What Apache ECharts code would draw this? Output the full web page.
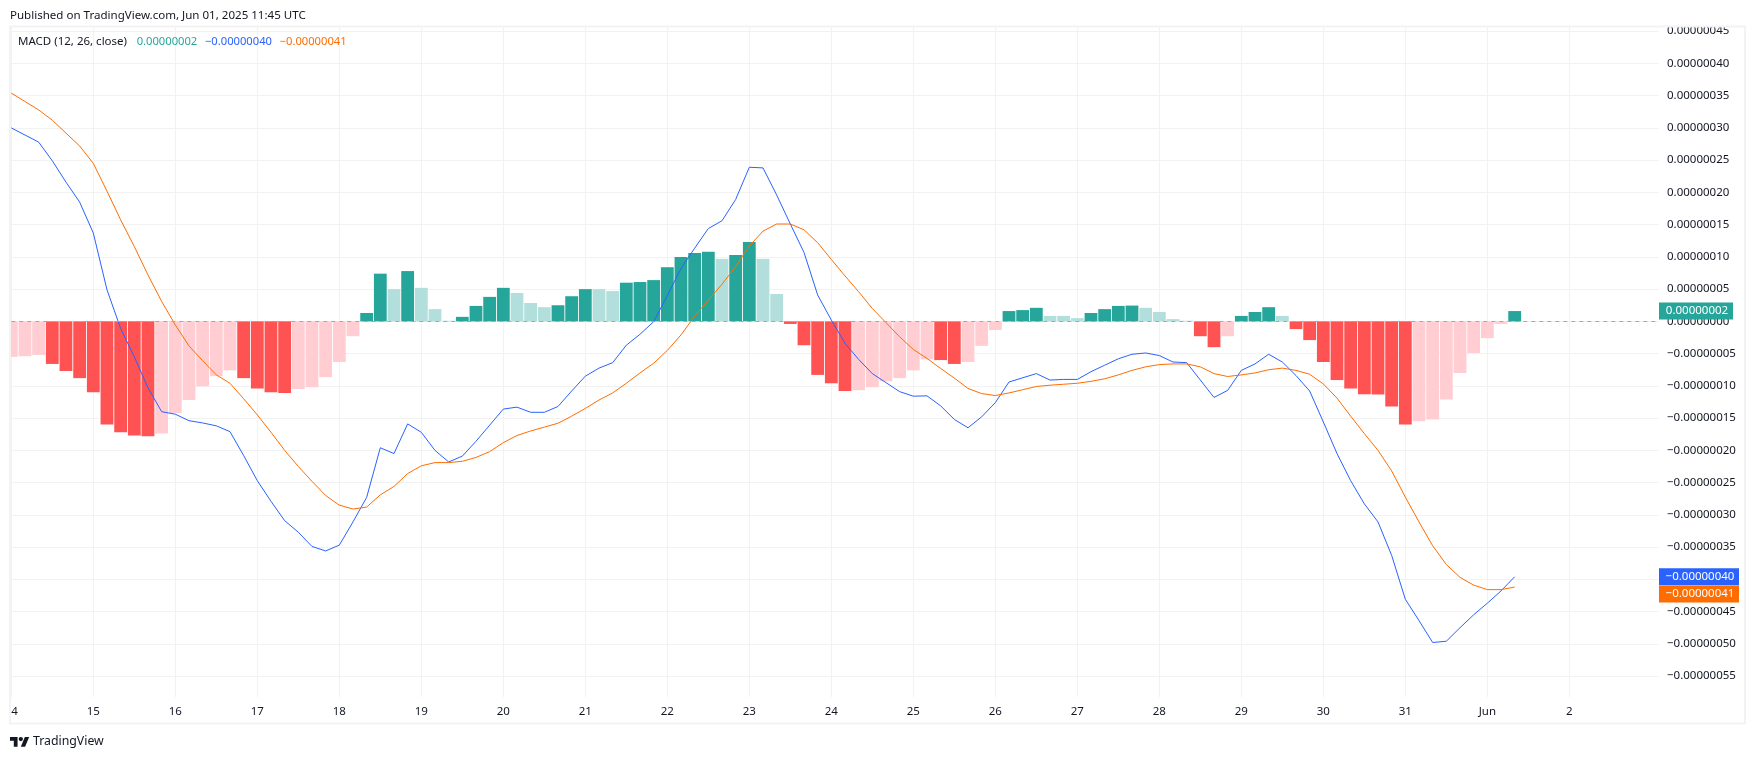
<!DOCTYPE html>
<html>
<head>
<meta charset="utf-8">
<title>MACD</title>
<style>
html, body { margin: 0; padding: 0; background: #fff; }
#chart { width: 1755px; height: 760px; }
</style>
<script src="https://cdn.jsdelivr.net/npm/echarts@6/dist/echarts.min.js"></script>
</head>
<body>
<div id="chart"></div>
<script>
// values are in units of 0.00000001, one entry per 4h bar starting on the 14th
var histogram = [
    -5.5, -5.4, -5.2, -6.6, -7.7, -8.8, -11.0, -16.0, -17.2, -17.7, -17.8, -17.4, -14.2, -12.2, -10.05, -8.5, -7.6, -8.8,
    -10.4, -11.0, -11.1, -10.5, -10.2, -8.65, -6.3, -2.3, 1.3, 7.4, 5.0, 7.8, 5.2, 1.9, 0.1, 0.7, 2.4, 3.8,
    5.2, 4.4, 2.85, 2.2, 2.5, 3.9, 5.0, 5.0, 4.7, 6.0, 6.1, 6.4, 8.4, 10.0, 10.6, 10.8, 9.7, 10.3,
    12.3, 9.7, 4.25, -0.4, -3.7, -8.3, -9.6, -10.8, -10.7, -10.2, -9.3, -8.8, -7.6, -5.9, -6.0, -6.6, -6.3, -3.8,
    -1.35, 1.6, 1.75, 2.1, 0.85, 0.85, 0.5, 1.3, 1.9, 2.4, 2.45, 2.1, 1.45, 0.35, 0.1, -2.3, -4.0, -2.3,
    0.85, 1.45, 2.2, 0.85, -1.2, -2.9, -6.3, -9.1, -10.4, -11.3, -11.35, -13.2, -16.0, -15.5, -15.2, -12.1, -8.0, -4.9,
    -2.6, -0.4, 1.6
];
var macdLine = [
    30.0, 28.9, 27.8, 24.9, 21.6, 18.5, 13.7, 4.9, -1.1, -5.5, -10.3, -14.0, -14.4, -15.4, -15.75, -16.2, -17.1, -20.8,
    -24.7, -27.9, -30.9, -32.7, -34.9, -35.6, -34.7, -31.1, -27.3, -19.6, -20.5, -15.9, -17.2, -20.0, -21.8, -20.9, -18.6, -16.1,
    -13.6, -13.3, -14.1, -14.1, -13.2, -10.8, -8.5, -7.25, -6.4, -3.7, -2.0, -0.05, 4.0, 8.2, 11.35, 14.4, 15.6, 18.9,
    23.9, 23.8, 19.6, 15.1, 10.7, 4.1, 0.2, -3.4, -5.9, -8.1, -9.5, -10.9, -11.6, -11.55, -13.1, -15.2, -16.5, -14.8,
    -12.6, -9.4, -8.75, -8.1, -9.1, -9.0, -9.0, -7.8, -6.8, -5.8, -5.1, -4.9, -5.3, -6.3, -6.4, -9.1, -11.8, -10.7,
    -7.6, -6.6, -5.1, -6.3, -8.4, -10.8, -15.6, -20.5, -24.7, -28.3, -31.1, -36.3, -43.1, -46.4, -49.8, -49.6, -47.5, -45.5,
    -43.7, -41.8, -39.6
];
var signalLine = [
    35.4, 34.1, 32.8, 31.2, 29.2, 27.2, 24.5, 20.2, 15.75, 11.6, 7.2, 3.1, -0.55, -3.8, -6.1, -8.3, -9.6, -12.0,
    -14.5, -17.2, -20.0, -22.5, -24.8, -27.0, -28.5, -29.1, -28.8, -26.9, -25.6, -23.6, -22.4, -21.9, -21.9, -21.7, -21.1, -20.2,
    -18.8, -17.7, -17.0, -16.4, -15.8, -14.7, -13.5, -12.2, -11.1, -9.6, -8.0, -6.5, -4.5, -2.1, 0.8, 3.3, 5.75, 8.5,
    11.7, 14.0, 15.1, 15.1, 14.2, 12.2, 9.6, 7.05, 4.6, 2.0, -0.2, -2.4, -4.35, -5.75, -7.3, -8.8, -10.4, -11.2,
    -11.5, -11.1, -10.6, -10.1, -9.9, -9.75, -9.6, -9.3, -8.9, -8.3, -7.6, -7.05, -6.7, -6.6, -6.6, -7.05, -8.1, -8.55,
    -8.3, -8.0, -7.5, -7.25, -7.6, -8.2, -9.7, -11.9, -14.7, -17.4, -20.0, -23.2, -27.25, -31.1, -34.8, -37.7, -39.7, -40.9,
    -41.6, -41.6, -41.2
];
var xTickBars = [0, 6, 12, 18, 24, 30, 36, 42, 48, 54, 60, 66, 72, 78, 84, 90, 96, 102, 108, 114];
var xTickLabels = ['4', '15', '16', '17', '18', '19', '20', '21', '22', '23', '24', '25', '26', '27', '28', '29', '30', '31', 'Jun', '2'];
var yTicks = [-55, -50, -45, -40, -35, -30, -25, -20, -15, -10, -5, 0, 5, 10, 15, 20, 25, 30, 35, 40, 45];
var publishedText = 'Published on TradingView.com, Jun 01, 2025 11:45 UTC';
var indicatorName = 'MACD (12, 26, close)';
var brandName = 'TradingView';

var fontName = '"Noto Sans", sans-serif';
var teal = '#26A69A', tealLight = '#B2DFDB', red = '#FF5252', redLight = '#FFCDD2';
var blue = '#2962FF', orange = '#FF6D00';

function formatValue(value) {
    var text = (Math.abs(value) / 100000000).toFixed(8);
    return value < 0 ? '\u2212' + text : text;
}

function barColor(index) {
    var value = histogram[index];
    var prev = histogram[index - 1];
    if (value < 0) {
        return value < prev ? red : redLight;
    }
    return value > prev ? teal : tealLight;
}

function pairs(values) {
    return values.map(function (value, index) {
        return [index, value];
    });
}

function richStyle(color, size, gap) {
    return { color: color, fontSize: size, fontWeight: 'normal', fontFamily: fontName, padding: [0, gap, 0, 0] };
}

// price tag sitting on the axis, offset so the tags do not overlap
function lastValueTag(value, color, width, offsetY) {
    return {
        silent: true,
        symbol: 'rect',
        symbolSize: [width, 17],
        symbolOffset: [width / 2, offsetY],
        itemStyle: { color: color },
        label: {
            show: true,
            position: 'inside',
            offset: [1, 0],
            color: '#fff',
            fontFamily: fontName,
            fontSize: 11.5,
            formatter: function () {
                return formatValue(value);
            }
        },
        data: [{ coord: [120.56, value] }]
    };
}

var lastBar = histogram.length - 1;
var chart = echarts.init(document.getElementById('chart'));

chart.setOption({
    animation: false,
    backgroundColor: '#fff',
    textStyle: { fontFamily: fontName },
    title: [{
        text: publishedText,
        left: 10,
        top: 10,
        padding: 0,
        textStyle: { color: '#131722', fontSize: 11.55, fontWeight: 'normal', fontFamily: fontName }
    }, {
        text: '{name|' + indicatorName + '} {hist|' + formatValue(2) + '} {macd|' + formatValue(-40) + '} {sig|' + formatValue(-41) + '}',
        left: 18,
        top: 33,
        padding: 0,
        textStyle: {
            fontWeight: 'normal',
            rich: {
                name: richStyle('#131722', 11.5, 5),
                hist: richStyle(teal, 11.2, 3),
                macd: richStyle(blue, 11.2, 3),
                sig: richStyle(orange, 11.2, 0)
            }
        }
    }],
    grid: { left: 11.3, right: 96, top: 27, bottom: 63 },
    xAxis: {
        type: 'value',
        min: 0,
        max: 120.56,
        axisLine: { show: false },
        axisTick: { show: false, customValues: xTickBars },
        axisLabel: {
            margin: 9,
            color: '#131722',
            fontSize: 11.5,
            fontFamily: fontName,
            customValues: xTickBars,
            alignMinLabel: 'left',
            formatter: function (value) {
                return xTickLabels[xTickBars.indexOf(value)];
            }
        },
        splitLine: { show: true, lineStyle: { color: '#f2f2f2', width: 1 } }
    },
    yAxis: {
        type: 'value',
        position: 'right',
        min: -58.25,
        max: 45.65,
        axisLine: { show: false },
        axisTick: { show: false, customValues: yTicks },
        axisLabel: {
            margin: 8,
            align: 'left',
            color: '#131722',
            fontSize: 11.5,
            fontFamily: fontName,
            customValues: yTicks,
            formatter: formatValue
        },
        splitLine: { show: true, lineStyle: { color: '#f2f2f2', width: 1 } }
    },
    series: [{
        name: 'Histogram',
        type: 'bar',
        barWidth: 12.8,
        z: 2,
        data: pairs(histogram),
        itemStyle: {
            color: function (params) {
                return barColor(params.dataIndex);
            }
        },
        markLine: {
            silent: true,
            symbol: 'none',
            label: { show: false },
            lineStyle: { color: '#a8a8a8', type: [4, 4], width: 1 },
            data: [{ yAxis: 0 }]
        },
        markPoint: lastValueTag(histogram[lastBar], teal, 74, 0)
    }, {
        name: 'MACD',
        type: 'line',
        z: 3,
        symbol: 'none',
        data: pairs(macdLine),
        lineStyle: { color: blue, width: 1 },
        markPoint: lastValueTag(macdLine[lastBar], blue, 80, 0)
    }, {
        name: 'Signal',
        type: 'line',
        z: 4,
        symbol: 'none',
        data: pairs(signalLine),
        lineStyle: { color: orange, width: 1 },
        markPoint: lastValueTag(signalLine[lastBar], orange, 80, 7)
    }],
    graphic: [{
        // the first bar is cut by the pane edge
        type: 'rect',
        silent: true,
        z: 9,
        shape: { x: 0, y: 27, width: 10, height: 680 },
        style: { fill: '#fff' }
    }, {
        type: 'rect',
        silent: true,
        z: 10,
        shape: { x: 10, y: 26.5, width: 1735, height: 697 },
        style: { fill: 'none', stroke: '#f3f3f3', lineWidth: 2 }
    }, {
        type: 'group',
        silent: true,
        x: 10,
        y: 734.8,
        scaleX: 0.54,
        scaleY: 0.54,
        children: [{
            type: 'polygon',
            shape: { points: [[14, 22], [7, 22], [7, 11], [0, 11], [0, 4], [14, 4]] },
            style: { fill: '#131722' }
        }, {
            type: 'polygon',
            shape: { points: [[28, 22], [20, 22], [27.5, 4], [35.5, 4]] },
            style: { fill: '#131722' }
        }, {
            type: 'circle',
            shape: { cx: 20, cy: 8, r: 4 },
            style: { fill: '#131722' }
        }]
    }, {
        type: 'text',
        silent: true,
        x: 33,
        y: 735,
        style: { text: brandName, fill: '#131722', font: '12.3px ' + fontName }
    }]
});
</script>
</body>
</html>
